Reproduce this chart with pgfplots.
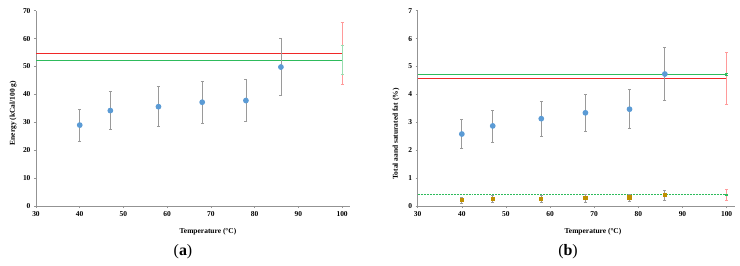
\documentclass[border=0pt]{standalone}
\usepackage{fontspec}
\setmainfont{Liberation Serif}
\usepackage{pgfplots}
\pgfplotsset{compat=1.18}
\definecolor{cblue}{HTML}{5B9BD5}
\definecolor{cgold}{HTML}{BF9000}
\definecolor{cred}{HTML}{F02828}
\definecolor{cgreen}{HTML}{2EBB5C}
\definecolor{lred}{HTML}{FF9A9A}
\definecolor{lgreen}{HTML}{9ADDB0}
\definecolor{ebar}{HTML}{9A9A9A}
\pgfplotsset{
  myax/.style={
    anchor=south west, scale only axis,
    ymin=0, xmin=30, xtick={30,40,...,100},
    axis x line*=bottom, axis y line*=left,
    axis line style={draw=gray!85, line width=0.6pt},
    tick style={draw=gray!85, line width=0.5pt},
    tick align=outside, major tick length=2bp,
    /pgf/number format/assume math mode=true,
    tick label style={font=\bfseries\fontsize{7.5}{8}\selectfont},
    every axis plot/.append style={line width=1.1pt},
    clip=false,
  },
  dot/.style={only marks, mark=*, mark size=2.3bp, mark options={draw=cblue, fill=cblue},
    error bars/.cd, y dir=both, y explicit,
    error bar style={draw=ebar, line width=0.7pt},
    error mark options={draw=ebar, line width=0.5pt, mark size=1.5bp, rotate=90}},
  gdot/.style={only marks, mark=square*, mark size=1.6bp, mark options={draw=cgold, fill=cgold},
    error bars/.cd, y dir=both, y explicit,
    error bar style={draw=ebar, line width=0.7pt},
    error mark options={draw=ebar, line width=0.5pt, mark size=1.5bp, rotate=90}},
  rbar/.style={mark=none, error bars/.cd, y dir=both, y explicit,
    error bar style={draw=#1, line width=0.8pt},
    error mark options={draw=#1, line width=0.6pt, mark size=1.5bp, rotate=90}},
}
\begin{document}
\begin{tikzpicture}
\path (0bp,0bp) rectangle (740bp,266bp);
% ---------- (a)
\begin{axis}[myax, at={(36bp,60bp)}, width=314bp, height=195.3bp,
  xmax=101.8, ymax=70, ytick={0,10,...,70}]
\addplot[rbar=lred] coordinates {(100,54.7) +- (0,11.1)};
\addplot[rbar=lgreen] coordinates {(100,52.35) +- (0,5.15)};
\addplot[cgreen] coordinates {(30,52.2) (100,52.2)};
\addplot[draw=cred, mark=none] coordinates {(30,54.7) (100,54.7)};
\addplot[dot] table[y error plus=ep, y error minus=em] {
x y ep em
40 29.0 5.7 5.8
47 34.2 6.9 6.8
58 35.6 7.2 7.0
68 37.2 7.4 7.6
78 37.8 7.6 7.5
86 49.8 10.2 10.0
};
\end{axis}
\node[rotate=90, font=\bfseries\fontsize{7.5}{8}\selectfont] at (13bp,153bp) {Energy (kCal/100 g)};
\node[font=\bfseries\fontsize{7.5}{8}\selectfont] at (208bp,34.5bp) {Temperature (°C)};
\node[font=\fontsize{16}{17}\selectfont] at (183bp,14bp) {(\textbf{a})};
% ---------- (b)
\begin{axis}[myax, at={(417.7bp,60bp)}, width=317.3bp, height=195.3bp,
  xmax=101.9, ymax=7, ytick={0,1,...,7}]
\addplot[cgreen] coordinates {(30,4.72) (100,4.72)};
\addplot[cred] coordinates {(30,4.57) (100,4.57)};
\addplot[rbar=lred] coordinates {(100,4.57) +- (0,0.93)};
\addplot[rbar=cgreen] coordinates {(100,4.72) +- (0,0.02)};
\addplot[cgreen, dashed, line width=0.8pt, dash pattern=on 2pt off 1pt] coordinates {(30,0.40) (100,0.40)};
\addplot[rbar=lred] coordinates {(100,0.41) +- (0,0.19)};
\addplot[rbar=cgreen] coordinates {(100,0.40) +- (0,0.02)};
\addplot[dot] table[y error plus=ep, y error minus=em] {
x y ep em
40 2.58 0.52 0.51
47 2.87 0.56 0.59
58 3.13 0.64 0.63
68 3.34 0.68 0.66
78 3.47 0.71 0.69
86 4.73 0.96 0.95
};
\addplot[gdot] table[y error plus=ep, y error minus=em] {
x y ep em
40 0.21 0.11 0.11
47 0.25 0.12 0.12
58 0.26 0.13 0.12
68 0.28 0.13 0.13
78 0.30 0.13 0.12
86 0.40 0.17 0.18
};
\end{axis}
\node[rotate=90, font=\bfseries\fontsize{7.5}{8}\selectfont] at (396bp,132bp) {Total aand saturated fat (\%)};
\node[font=\bfseries\fontsize{7.5}{8}\selectfont] at (593bp,34.5bp) {Temperature (°C)};
\node[font=\fontsize{16}{17}\selectfont] at (568bp,14bp) {(\textbf{b})};
\end{tikzpicture}
\end{document}
